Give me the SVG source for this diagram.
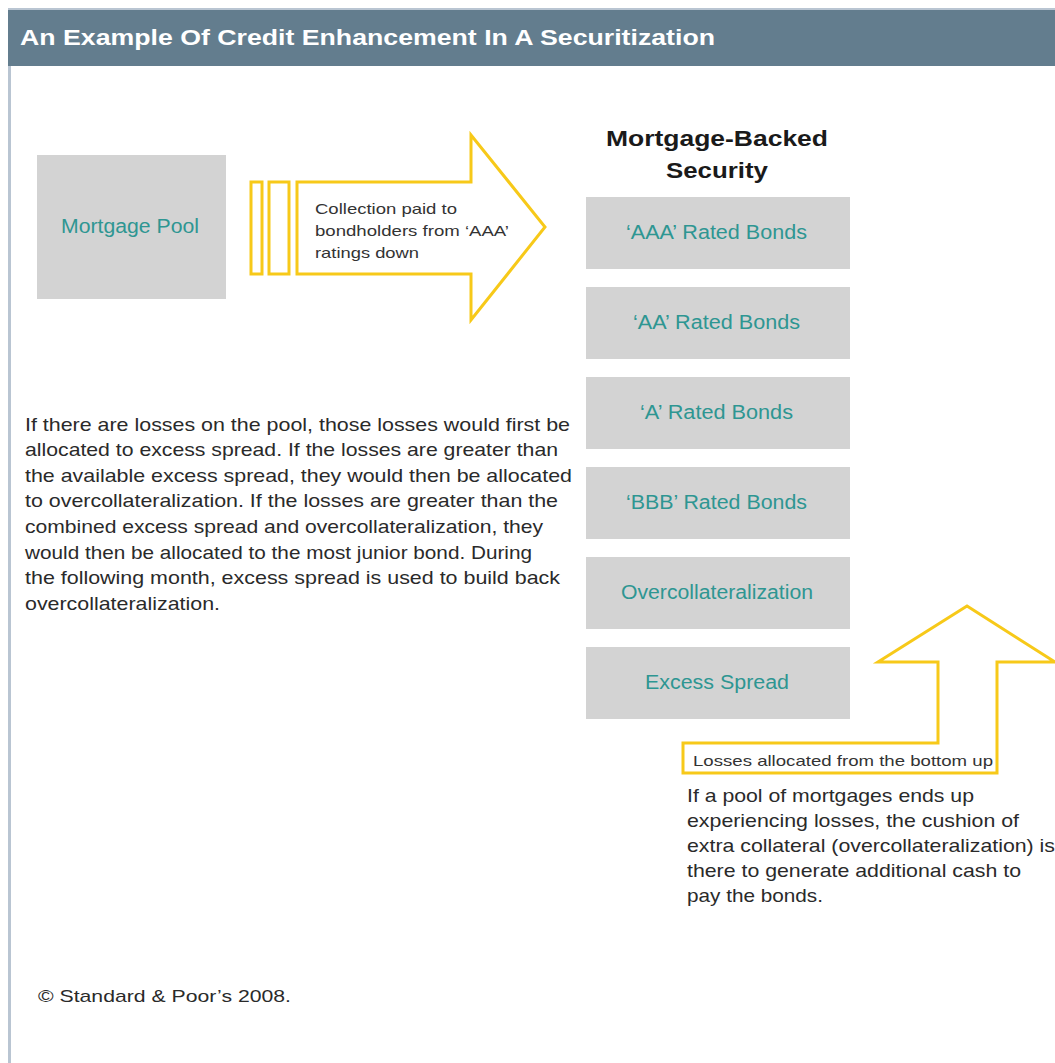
<svg xmlns="http://www.w3.org/2000/svg" width="1055" height="1063" viewBox="0 0 1055 1063">
  <style>
    text { font-family: "Liberation Sans", Arial, Helvetica, sans-serif; }
    .box { fill: #d3d3d3; }
    .lbl { fill: #2e9692; font-size: 19.5px; }
    .body { fill: #2a2a2a; font-size: 18.5px; }
    .small { fill: #333; font-size: 15px; }
    .arrow { fill: #fff; stroke: #f7c919; stroke-width: 3; stroke-linejoin: miter; }
  </style>
  <rect width="1055" height="1063" fill="#fff"/>
  <!-- frame -->
  <rect x="8" y="10" width="3" height="1053" fill="#b9c5d2"/>
  <rect x="8" y="9" width="1047" height="57" fill="#637d8e"/>
  <rect x="8" y="8" width="1047" height="2" fill="#b9c5d2"/>
  <text x="20" y="44.5" fill="#fff" font-size="21.5" font-weight="bold" textLength="695" lengthAdjust="spacingAndGlyphs">An Example Of Credit Enhancement In A Securitization</text>

  <g id="mortgage-pool">
    <rect class="box" x="37" y="155" width="189" height="144"/>
    <text class="lbl" x="61" y="233" textLength="138" lengthAdjust="spacingAndGlyphs">Mortgage Pool</text>
  </g>

  <g id="connectors">
    <g id="collection-arrow">
      <rect class="arrow" x="251" y="182" width="11" height="92"/>
      <rect class="arrow" x="269" y="182" width="20" height="92"/>
      <polygon class="arrow" points="297,182 471,182 471,135 545,227 471,320 471,274 297,274"/>
      <text class="small" x="315" y="214" textLength="142" lengthAdjust="spacingAndGlyphs">Collection paid to</text>
      <text class="small" x="315" y="236" textLength="194" lengthAdjust="spacingAndGlyphs">bondholders from ‘AAA’</text>
      <text class="small" x="315" y="258" textLength="104" lengthAdjust="spacingAndGlyphs">ratings down</text>
    </g>
    <g id="loss-arrow">
      <polygon class="arrow" points="967,606 1055,662 997,662 997,773 683,773 683,743 938,743 938,662 878,662"/>
      <text class="small" x="693" y="766" textLength="300" lengthAdjust="spacingAndGlyphs">Losses allocated from the bottom up</text>
    </g>
  </g>

  <g id="mbs-title">
    <text x="606" y="146" font-size="22" font-weight="bold" fill="#1a1a1a" textLength="222" lengthAdjust="spacingAndGlyphs">Mortgage-Backed</text>
    <text x="666" y="178" font-size="22" font-weight="bold" fill="#1a1a1a" textLength="102" lengthAdjust="spacingAndGlyphs">Security</text>
  </g>

  <g id="aaa"><rect class="box" x="586" y="197" width="264" height="72"/><text class="lbl" x="626" y="239" textLength="181" lengthAdjust="spacingAndGlyphs">‘AAA’ Rated Bonds</text></g>
  <g id="aa"><rect class="box" x="586" y="287" width="264" height="72"/><text class="lbl" x="633" y="329" textLength="167" lengthAdjust="spacingAndGlyphs">‘AA’ Rated Bonds</text></g>
  <g id="a"><rect class="box" x="586" y="377" width="264" height="72"/><text class="lbl" x="640" y="419" textLength="153" lengthAdjust="spacingAndGlyphs">‘A’ Rated Bonds</text></g>
  <g id="bbb"><rect class="box" x="586" y="467" width="264" height="72"/><text class="lbl" x="626" y="509" textLength="181" lengthAdjust="spacingAndGlyphs">‘BBB’ Rated Bonds</text></g>
  <g id="oc"><rect class="box" x="586" y="557" width="264" height="72"/><text class="lbl" x="621" y="599" textLength="192" lengthAdjust="spacingAndGlyphs">Overcollateralization</text></g>
  <g id="es"><rect class="box" x="586" y="647" width="264" height="72"/><text class="lbl" x="645" y="689" textLength="144" lengthAdjust="spacingAndGlyphs">Excess Spread</text></g>

  <g id="loss-text">
    <text class="body" x="25" y="431" textLength="545" lengthAdjust="spacingAndGlyphs">If there are losses on the pool, those losses would first be</text>
    <text class="body" x="25" y="456" textLength="533" lengthAdjust="spacingAndGlyphs">allocated to excess spread. If the losses are greater than</text>
    <text class="body" x="25" y="482" textLength="547" lengthAdjust="spacingAndGlyphs">the available excess spread, they would then be allocated</text>
    <text class="body" x="25" y="507" textLength="533" lengthAdjust="spacingAndGlyphs">to overcollateralization. If the losses are greater than the</text>
    <text class="body" x="25" y="533" textLength="518" lengthAdjust="spacingAndGlyphs">combined excess spread and overcollateralization, they</text>
    <text class="body" x="25" y="559" textLength="507" lengthAdjust="spacingAndGlyphs">would then be allocated to the most junior bond. During</text>
    <text class="body" x="25" y="584" textLength="535" lengthAdjust="spacingAndGlyphs">the following month, excess spread is used to build back</text>
    <text class="body" x="25" y="610" textLength="195" lengthAdjust="spacingAndGlyphs">overcollateralization.</text>
  </g>

  <g id="cushion-text">
    <text class="body" x="687" y="802" textLength="287" lengthAdjust="spacingAndGlyphs">If a pool of mortgages ends up</text>
    <text class="body" x="687" y="827" textLength="332" lengthAdjust="spacingAndGlyphs">experiencing losses, the cushion of</text>
    <text class="body" x="687" y="852" textLength="368" lengthAdjust="spacingAndGlyphs">extra collateral (overcollateralization) is</text>
    <text class="body" x="687" y="877" textLength="334" lengthAdjust="spacingAndGlyphs">there to generate additional cash to</text>
    <text class="body" x="687" y="902" textLength="136" lengthAdjust="spacingAndGlyphs">pay the bonds.</text>
  </g>

  <text x="38" y="1002" fill="#2a2a2a" font-size="17" textLength="253" lengthAdjust="spacingAndGlyphs">© Standard &amp; Poor’s 2008.</text>
</svg>
